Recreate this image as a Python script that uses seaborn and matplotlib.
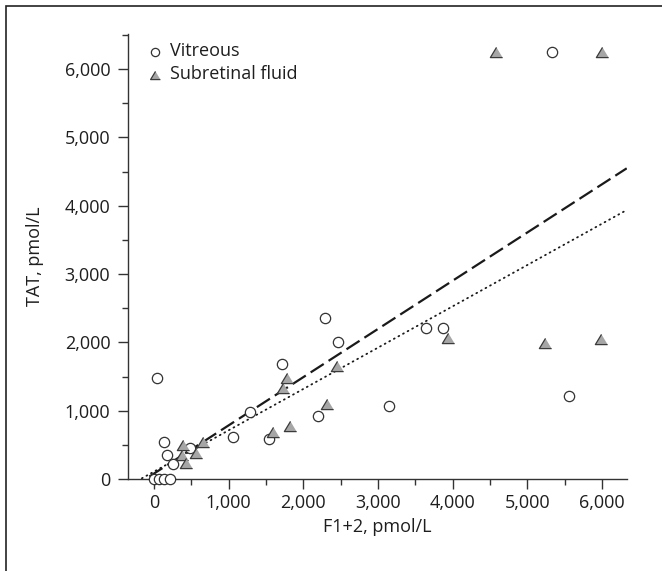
import matplotlib
matplotlib.use('Agg')
import matplotlib.pyplot as plt
import matplotlib.ticker as mticker
from matplotlib.patches import Rectangle
import seaborn as sns
import pandas as pd
import numpy as np

# values (F1+2 vs TAT, pmol/L)
vitreous_f12 = [5330, 3644, 3867, 5563, 3150, 39, 2292, 2470, 1722, 2202,
                1542, 1281, 1065, 139, 172, 250, 480, 0, 70, 140, 215]
vitreous_tat = [6250, 2206, 2206, 1222, 1065, 1482, 2352, 2012, 1688, 922,
                581, 988, 620, 542, 351, 225, 458, 0, 0, 0, 0]
srf_f12 = [4580, 6000, 3934, 5240, 5990, 1781, 1730, 2454, 2323, 1818,
           1596, 393, 654, 377, 563, 431]
srf_tat = [6250, 6250, 2070, 1990, 2056, 1484, 1334, 1659, 1095, 778,
           683, 498, 546, 346, 376, 230]

# fitted regression lines (slope, intercept, x-range)
srf_fit = (0.706, 79, [-60, 6330])
vit_fit = (0.605, 108, [-160, 6330])

df = pd.DataFrame({
    'f12': vitreous_f12 + srf_f12,
    'tat': vitreous_tat + srf_tat,
    'group': ['Vitreous'] * len(vitreous_f12) + ['Subretinal fluid'] * len(srf_f12),
})

sns.set_style('ticks')
plt.rcParams['font.family'] = ['Open Sans', 'DejaVu Sans']
FS = 13
TXT = '#1e1e1e'

fig = plt.figure(figsize=(6.62, 5.71), dpi=100)
ax = fig.add_axes([0.194, 0.161, 0.7527, 0.779])

# figure border (right/bottom edges fall outside the picture)
fig.patches.append(Rectangle((6 / 662, -0.05), 1.2, 1.05 - 6 / 571,
                             transform=fig.transFigure, fill=False,
                             edgecolor='#222222', linewidth=1.2, zorder=0))

slope, icpt, xr = srf_fit
xs = np.array(xr)
ax.plot(xs, slope * xs + icpt, color='#1a1a1a', lw=1.6,
        dashes=(7, 2.6), zorder=2)
slope, icpt, xr = vit_fit
xs = np.array(xr)
ax.plot(xs, slope * xs + icpt, color='#1a1a1a', lw=1.3,
        dashes=(0.5, 2.4), dash_capstyle='round', zorder=2)

tri = [(0, 0.83), (-1, -0.83), (1, -0.83)]
sns.scatterplot(data=df[df.group == 'Vitreous'], x='f12', y='tat', marker='o',
                s=55, color='white', edgecolor='#333333', linewidth=0.9,
                ax=ax, zorder=3, clip_on=False, label='Vitreous')
sns.scatterplot(data=df[df.group == 'Subretinal fluid'], x='f12', y='tat',
                marker=tri, s=78, color='#a6a6a6', edgecolor='#3a3a3a',
                linewidth=0.9, ax=ax, zorder=3, clip_on=False,
                label='Subretinal fluid')

ax.set_xlim(-340, 6330)
ax.set_ylim(0, 6510)
ax.xaxis.set_major_locator(mticker.MultipleLocator(1000))
ax.xaxis.set_minor_locator(mticker.MultipleLocator(500))
ax.yaxis.set_major_locator(mticker.MultipleLocator(1000))
ax.yaxis.set_minor_locator(mticker.MultipleLocator(500))
fmt = mticker.FuncFormatter(lambda v, p: f'{v:,.0f}')
ax.xaxis.set_major_formatter(fmt)
ax.yaxis.set_major_formatter(fmt)
ax.tick_params(which='major', length=7, width=1, color='#333333',
               labelsize=FS, labelcolor=TXT)
ax.tick_params(axis='x', which='major', pad=4)
ax.tick_params(axis='y', which='major', pad=6)
ax.tick_params(which='minor', length=4, width=1, color='#333333')
for s in ['left', 'bottom']:
    ax.spines[s].set_color('#333333')
    ax.spines[s].set_linewidth(1)
sns.despine(ax=ax)

ax.set_xlabel('F1+2, pmol/L', fontsize=FS, color=TXT, labelpad=4)
ax.set_ylabel('TAT, pmol/L', fontsize=FS, color=TXT, labelpad=15)

ax.legend(loc='upper left', bbox_to_anchor=(19 / 498, 0.982), frameon=False,
          fontsize=FS, markerscale=0.8, handletextpad=0.45, labelspacing=0.28,
          handlelength=0.8, borderaxespad=0, borderpad=0,
          labelcolor=TXT)

fig.savefig('out.png', dpi=100)
